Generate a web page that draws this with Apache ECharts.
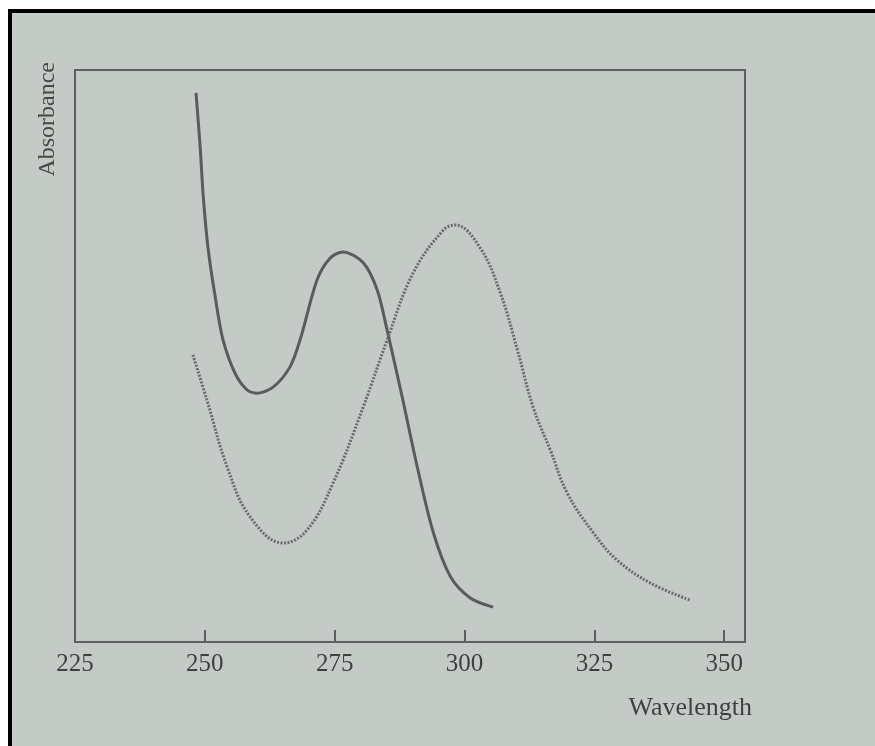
<!DOCTYPE html>
<html>
<head>
<meta charset="utf-8">
<script src="https://cdn.jsdelivr.net/npm/echarts@6/dist/echarts.min.js"></script>
<style>
    html, body { margin: 0; padding: 0; background: #ffffff; }
    #frame {
        position: absolute; left: 8px; top: 9px; width: 867px; height: 737px;
        border-left: 4px solid #000; border-top: 4px solid #000;
        background: #c4cac6;
    }
    #echart { width: 863px; height: 733px; }
</style>
</head>
<body>
<div id="frame"><div id="echart"></div></div>
<script>
// x tick labels
var tickValues = [225, 250, 275, 300, 325, 350];

// solid curve
var solidWavelength = [248.3, 249.1, 249.7, 250.6, 252.0, 253.5, 255.8, 258.1, 260.1, 263.2, 266.4, 268.4, 271.6, 274.1, 276.6, 280.5, 283.2, 285.1, 286.6, 288.2, 290.9, 294.0, 297.3, 301.1, 305.5];
var solidAbsorbance = [0.960, 0.865, 0.778, 0.690, 0.603, 0.528, 0.470, 0.441, 0.435, 0.446, 0.481, 0.530, 0.633, 0.671, 0.682, 0.663, 0.615, 0.545, 0.485, 0.420, 0.306, 0.191, 0.114, 0.077, 0.061];

// dotted curve
var dottedWavelength = [247.7, 250.4, 254.3, 258.7, 265.1, 269.7, 274.7, 280.5, 285.1, 290.1, 295.9, 298.2, 303.0, 306.9, 310.2, 313.2, 316.5, 319.8, 324.8, 329.4, 335.8, 343.5];
var dottedAbsorbance = [0.502, 0.423, 0.306, 0.219, 0.173, 0.196, 0.278, 0.411, 0.528, 0.645, 0.720, 0.729, 0.689, 0.610, 0.510, 0.411, 0.336, 0.260, 0.191, 0.143, 0.103, 0.073];

function pairs(xs, ys) {
    return xs.map(function (x, i) { return [x, ys[i]]; });
}

var font = '"Liberation Serif", "DejaVu Serif", serif';
var option = {
    animation: false,
    grid: {
        left: 63, top: 57, right: 130, bottom: 104,
        show: true,
        borderColor: '#5e605f',
        borderWidth: 2
    },
    xAxis: {
        type: 'value',
        min: 225,
        max: 354,
        interval: 25,
        axisLine: { show: false },
        splitLine: { show: false },
        axisTick: {
            show: true, inside: true, length: 12,
            customValues: tickValues.slice(1),
            lineStyle: { color: '#5e605f', width: 2 }
        },
        axisLabel: {
            customValues: tickValues,
            margin: 10,
            color: '#3f413f',
            fontFamily: font,
            fontSize: 25
        }
    },
    yAxis: {
        type: 'value',
        min: 0,
        max: 1,
        show: false
    },
    graphic: [
        {
            type: 'text', x: 36, y: 49, rotation: Math.PI / 2,
            style: {
                text: 'Absorbance', fill: '#474947',
                font: '24px ' + font,
                align: 'right', verticalAlign: 'middle'
            }
        },
        {
            type: 'text', x: 740, y: 695,
            style: {
                text: 'Wavelength', fill: '#3f413f',
                font: '26px ' + font,
                align: 'right', verticalAlign: 'middle'
            }
        }
    ],
    series: [
        {
            type: 'line',
            smooth: 0.3,
            showSymbol: false,
            data: pairs(solidWavelength, solidAbsorbance),
            lineStyle: { color: '#5a5c5b', width: 3 }
        },
        {
            type: 'line',
            smooth: 0.4,
            showSymbol: false,
            data: pairs(dottedWavelength, dottedAbsorbance),
            lineStyle: { color: '#6a6c6b', width: 3, type: [2, 1.5] }
        }
    ]
};
echarts.init(document.getElementById('echart')).setOption(option);
</script>
</body>
</html>
